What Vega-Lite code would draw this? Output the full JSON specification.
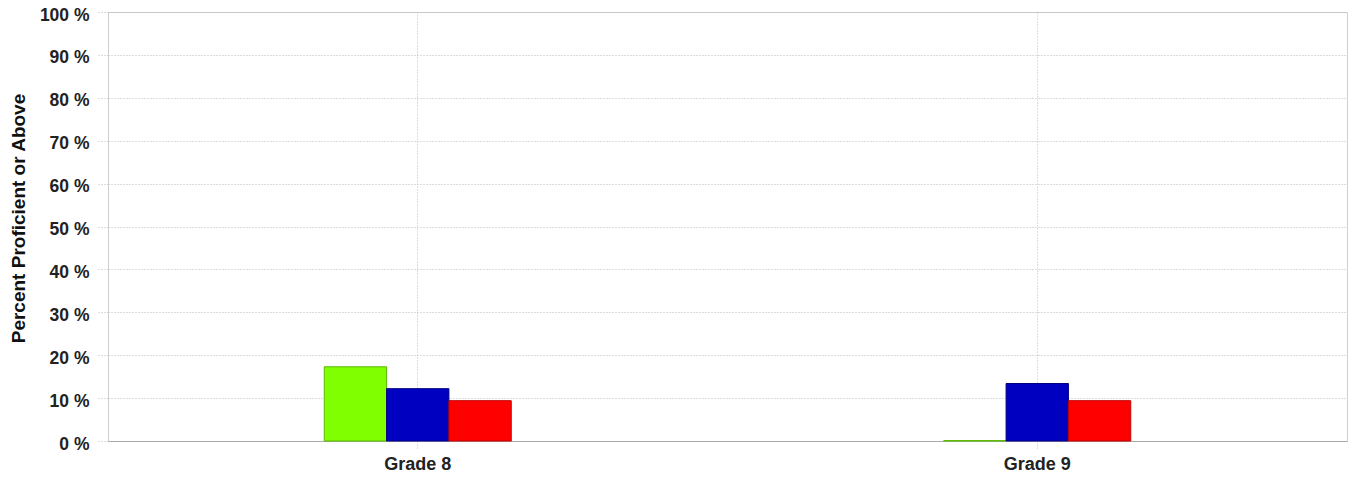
{
  "$schema": "https://vega.github.io/schema/vega-lite/v6.json",
  "width": 1239,
  "height": 429,
  "autosize": {"type": "none"},
  "padding": {"left": 108, "top": 12, "right": 4, "bottom": 38},
  "background": "white",
  "config": {
    "font": "Liberation Sans",
    "view": {"stroke": "#cfcfcf", "strokeWidth": 1},
    "axis": {
      "labelFont": "Liberation Sans",
      "titleFont": "Liberation Sans",
      "labelFontWeight": "bold",
      "labelColor": "#222222",
      "titleColor": "#111111",
      "gridColor": "#bbbbbb",
      "gridDash": [1, 2],
      "tickColor": "#bbbbbb",
      "tickDash": [1, 2]
    }
  },
  "data": {
    "values": [
      {"grade": "Grade 8", "group": "A", "pct": 17.3},
      {"grade": "Grade 8", "group": "B", "pct": 12.2},
      {"grade": "Grade 8", "group": "C", "pct": 9.4},
      {"grade": "Grade 9", "group": "A", "pct": 0.1},
      {"grade": "Grade 9", "group": "B", "pct": 13.4},
      {"grade": "Grade 9", "group": "C", "pct": 9.4}
    ]
  },
  "mark": {"type": "bar", "strokeWidth": 1},
  "encoding": {
    "x": {
      "field": "grade",
      "type": "nominal",
      "scale": {"paddingInner": 0, "paddingOuter": 0},
      "axis": {
        "title": null,
        "labelAngle": 0,
        "labelFontSize": 18,
        "grid": true,
        "bandPosition": 0.5,
        "domainColor": "#aaaaaa",
        "tickSize": 8,
        "labelPadding": 6
      }
    },
    "xOffset": {
      "field": "group",
      "type": "nominal",
      "scale": {"domain": ["p1", "p2", "p3", "A", "B", "C", "q1", "q2", "q3"], "paddingInner": 0, "paddingOuter": 0.47}
    },
    "y": {
      "field": "pct",
      "type": "quantitative",
      "scale": {"domain": [0, 100], "nice": false},
      "axis": {
        "title": "Percent Proficient or Above",
        "titleFontSize": 19,
        "titleFontWeight": "bold",
        "titleX": -90,
        "titleY": 206,
        "titleAlign": "center",
        "titleBaseline": "middle",
        "titleAngle": -90,
        "values": [0, 10, 20, 30, 40, 50, 60, 70, 80, 90, 100],
        "labelExpr": "datum.value + ' %'",
        "labelFontSize": 17.5,
        "labelOffset": 3,
        "domain": false,
        "tickSize": 11,
        "labelPadding": 8
      }
    },
    "fill": {
      "field": "group",
      "type": "nominal",
      "scale": {"domain": ["A", "B", "C"], "range": ["#80ff00", "#0000c0", "#ff0000"]},
      "legend": null
    },
    "stroke": {
      "field": "group",
      "type": "nominal",
      "scale": {"domain": ["A", "B", "C"], "range": ["#5cb800", "#000080", "#c00000"]},
      "legend": null
    }
  }
}
